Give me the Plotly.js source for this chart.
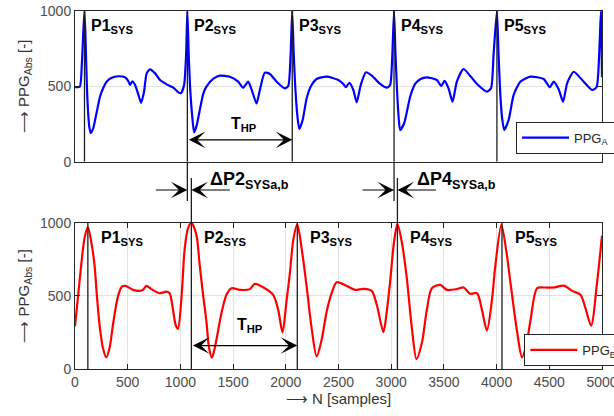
<!DOCTYPE html>
<html>
<head>
<meta charset="utf-8">
<script src="https://cdn.plot.ly/plotly-3.0.1.min.js"></script>
<style>
  html, body { margin: 0; padding: 0; background: #fff; }
  #chart { width: 614px; height: 416px; }
</style>
</head>
<body>
<div id="chart"></div>
<script>
// PPG channel A (upper panel): sample index and absolute amplitude
const A_N = [0, 45, 65, 78, 90, 101, 112, 124, 137, 150, 173, 206, 237, 269, 300, 348, 411, 474, 506, 522, 544, 570, 602, 627, 655, 680, 712, 760, 807, 870, 933, 981, 1006, 1035, 1054,
  1066, 1079, 1092, 1111, 1130, 1155, 1187, 1218, 1247, 1310, 1374, 1469, 1548, 1595, 1643, 1675, 1722, 1754, 1801, 1849, 1913, 1991, 2023, 2045,
  2061, 2074, 2087, 2109, 2128, 2160, 2198, 2236, 2293, 2388, 2498, 2546, 2571, 2603, 2641, 2673, 2711, 2761, 2816, 2895, 2958, 2990, 3008,
  3027, 3040, 3055, 3070, 3085, 3123, 3180, 3227, 3275, 3338, 3434, 3474, 3506, 3544, 3582, 3623, 3686, 3750, 3814, 3909, 3947, 3972,
  4003, 4018, 4035, 4052, 4073, 4114, 4162, 4225, 4320, 4447, 4504, 4542, 4589, 4631, 4669, 4732, 4812, 4907, 4948, 4976, 4990, 5000];
const A_VAL = [495, 497, 650, 850, 1000, 790, 520, 330, 225, 190, 222, 329, 431, 491, 531, 557, 567, 560, 535, 509, 534, 509, 443, 391, 464, 586, 613, 586, 542, 513, 491, 460, 455, 509, 708,
  1000, 708, 495, 310, 195, 243, 354, 454, 498, 549, 571, 564, 531, 491, 531, 480, 387, 476, 591, 582, 531, 487, 502, 697,
  1000, 740, 531, 310, 217, 277, 421, 498, 549, 564, 542, 516, 494, 524, 476, 394, 509, 593, 571, 516, 491, 509, 664,
  1000, 730, 480, 300, 210, 255, 431, 516, 547, 560, 542, 502, 536, 487, 398, 531, 615, 569, 516, 465, 487, 719,
  1000, 720, 450, 290, 210, 277, 443, 531, 564, 549, 494, 531, 480, 398, 520, 597, 542, 476, 494, 763, 1000, 560];

// PPG channel B (lower panel)
const B_N = [0, 43, 90, 122, 154, 185, 207, 233, 265, 296, 328, 360, 407, 445, 480, 550, 613, 645, 677, 724, 803, 867, 898, 930, 955, 977, 1010, 1041, 1072,
  1104, 1152, 1183, 1215, 1247, 1272, 1299, 1326, 1390, 1437, 1485, 1564, 1659, 1706, 1785, 1880, 1928, 1969, 2008, 2039, 2071,
  2109, 2150, 2198, 2245, 2293, 2340, 2388, 2435, 2483, 2578, 2657, 2736, 2815, 2863, 2926, 2958, 2990, 3027,
  3059, 3100, 3148, 3196, 3240, 3291, 3338, 3386, 3465, 3528, 3623, 3686, 3750, 3814, 3861, 3908, 3956, 3987,
  4045, 4093, 4130, 4194, 4241, 4282, 4320, 4384, 4447, 4542, 4637, 4717, 4796, 4843, 4897, 4954, 5000];
const B_VAL = [291, 598, 893, 970, 870, 711, 507, 302, 143, 79, 143, 302, 495, 563, 568, 541, 534, 541, 568, 546, 518, 529, 518, 404, 302, 275, 484, 825, 962,
  1000, 916, 711, 507, 325, 143, 77, 143, 382, 507, 552, 541, 546, 582, 559, 507, 404, 250, 473, 655, 882,
  988, 825, 563, 280, 86, 200, 393, 518, 593, 568, 541, 548, 534, 439, 252, 393, 598, 870,
  990, 870, 621, 280, 68, 177, 404, 552, 575, 541, 546, 557, 514, 518, 404, 263, 473, 700,
  985, 802, 598, 257, 79, 166, 325, 552, 557, 557, 570, 534, 507, 416, 297, 598, 911];

// Systolic peak positions marked in each channel
const PEAKS_A = [90, 1066, 2061, 3027, 4003];
const PEAKS_B = [122, 1104, 2109, 3059, 4051];
const PEAK_NAMES = ['P1', 'P2', 'P3', 'P4', 'P5'];

// Heart period level (arrow height) in each panel
const THP_LEVEL_A = 145;
const THP_LEVEL_B = 160;

const X_TICKS = [0, 500, 1000, 1500, 2000, 2500, 3000, 3500, 4000, 4500, 5000];
const Y_TICKS = [0, 500, 1000];

// ---- figure geometry (pixels) ----
const W = 614, H = 416;
const M = { l: 75, r: 12, t: 11, b: 47 };
const plotH = H - M.t - M.b;
const py = p => (H - M.b - p) / plotH;          // pixel row -> paper y
const TOP_DOMAIN = [py(161.7), 1];
const BOT_DOMAIN = [0, py(222.7)];

const FONT = 'Liberation Sans, Arial, Helvetica, sans-serif';
const AXIS_COL = '#262626';
const TICK_COL = '#4d4d4d';
const GRID_COL = '#e3e3e3';
const MARK_COL = '#1e1e1e';

const traces = [
  {
    x: A_N, y: A_VAL, xaxis: 'x2', yaxis: 'y2', type: 'scatter', mode: 'lines',
    name: 'PPG<sub>A</sub>', legend: 'legend',
    line: { color: '#0000ff', width: 2.2, shape: 'spline', smoothing: 0.6 }
  },
  {
    x: B_N, y: B_VAL, xaxis: 'x', yaxis: 'y', type: 'scatter', mode: 'lines',
    name: 'PPG<sub>B</sub>', legend: 'legend2',
    line: { color: '#ff0000', width: 2.2, shape: 'spline', smoothing: 0.8 }
  }
];

// vertical markers at the systolic peaks
const shapes = [];
PEAKS_A.forEach(n => shapes.push({ type: 'line', xref: 'x2', yref: 'y2', x0: n, x1: n, y0: 0, y1: 1000,
  line: { color: MARK_COL, width: 1.3 } }));
PEAKS_B.forEach(n => shapes.push({ type: 'line', xref: 'x', yref: 'y', x0: n, x1: n, y0: 0, y1: 1000,
  line: { color: MARK_COL, width: 1.3 } }));
// P2 and P4 markers run into the gap between the panels (peak offset a/b)
[1, 3].forEach(i => {
  shapes.push({ type: 'line', xref: 'x2', yref: 'paper', x0: PEAKS_A[i], x1: PEAKS_A[i], y0: py(201), y1: TOP_DOMAIN[0],
    line: { color: MARK_COL, width: 1.3 } });
  shapes.push({ type: 'line', xref: 'x', yref: 'paper', x0: PEAKS_B[i], x1: PEAKS_B[i], y0: BOT_DOMAIN[1], y1: py(178),
    line: { color: MARK_COL, width: 1.3 } });
});

const annotations = [];
const boldFont = size => ({ family: FONT, size: size, color: '#000' });

// peak labels
PEAK_NAMES.forEach((name, i) => {
  annotations.push({ xref: 'x2', yref: 'y2', x: PEAKS_A[i], y: 1000, xanchor: 'left', yanchor: 'top',
    xshift: 5, yshift: -4, showarrow: false, text: '<b>' + name + '<sub>SYS</sub></b>', font: boldFont(16) });
  annotations.push({ xref: 'x', yref: 'y', x: PEAKS_B[i], y: 1000, xanchor: 'left', yanchor: 'top',
    xshift: 11, yshift: -4, showarrow: false, text: '<b>' + name + '<sub>SYS</sub></b>', font: boldFont(16) });
});

// heart period arrows between P2 and P3
const arrowStyle = { arrowcolor: '#000', arrowwidth: 1.2, arrowhead: 3, arrowsize: 2.3,
  startarrowhead: 3, startarrowsize: 2.3 };
annotations.push(Object.assign({ xref: 'x2', yref: 'y2', axref: 'x2', ayref: 'y2',
  x: PEAKS_A[2], y: THP_LEVEL_A, ax: PEAKS_A[1], ay: THP_LEVEL_A, text: '', showarrow: true,
  arrowside: 'end+start' }, arrowStyle));
annotations.push(Object.assign({ xref: 'x', yref: 'y', axref: 'x', ayref: 'y',
  x: PEAKS_B[2], y: THP_LEVEL_B, ax: PEAKS_B[1], ay: THP_LEVEL_B, text: '', showarrow: true,
  arrowside: 'end+start' }, arrowStyle));
annotations.push({ xref: 'x2', yref: 'y2', x: (PEAKS_A[1] + PEAKS_A[2]) / 2, y: 323, xanchor: 'center', yanchor: 'top',
  xshift: 4, showarrow: false, text: '<b>T<sub>HP</sub></b>', font: boldFont(16) });
annotations.push({ xref: 'x', yref: 'y', x: (PEAKS_B[1] + PEAKS_B[2]) / 2, y: 375, xanchor: 'center', yanchor: 'top',
  xshift: 6, showarrow: false, text: '<b>T<sub>HP</sub></b>', font: boldFont(16) });

// peak offset between channels for P2 and P4
[1, 3].forEach(i => {
  annotations.push(Object.assign({ xref: 'x', yref: 'paper', x: PEAKS_A[i], y: py(190),
    ax: -33, ay: 0, text: '', showarrow: true }, arrowStyle));
  annotations.push(Object.assign({ xref: 'x', yref: 'paper', x: PEAKS_B[i], y: py(190),
    ax: 40, ay: 0, text: '', showarrow: true }, arrowStyle));
  annotations.push({ xref: 'x', yref: 'paper', x: PEAKS_A[i], y: py(166.5), xanchor: 'left', yanchor: 'top',
    xshift: 21, showarrow: false, text: '<b>\u0394' + PEAK_NAMES[i] + '<sub>SYSa,b</sub></b>', font: boldFont(18) });
});

const yAxisBase = {
  range: [0, 1000], tickvals: Y_TICKS, ticktext: Y_TICKS.map(String),
  ticks: 'inside', ticklen: 5, tickcolor: AXIS_COL, tickwidth: 1,
  showline: true, linecolor: AXIS_COL, linewidth: 1, mirror: 'ticks',
  showgrid: true, gridcolor: GRID_COL, gridwidth: 1, zeroline: false,
  tickfont: { family: FONT, size: 14, color: TICK_COL },
  title: { text: '\u27F6 PPG<sub>Abs</sub> [-]', font: { family: FONT, size: 15, color: '#333' }, standoff: 6 },
  fixedrange: true
};

const layout = {
  width: W, height: H,
  margin: { l: M.l, r: M.r, t: M.t, b: M.b, autoexpand: false },
  paper_bgcolor: '#fff', plot_bgcolor: '#fff',
  showlegend: true,
  xaxis: {
    anchor: 'y', range: [0, 5000], tickvals: X_TICKS, ticktext: X_TICKS.map(String),
    ticks: 'inside', ticklen: 5, tickcolor: AXIS_COL, ticklabeloverflow: 'allow',
    showline: true, linecolor: AXIS_COL, linewidth: 1, mirror: 'ticks',
    showgrid: true, gridcolor: GRID_COL, zeroline: false,
    tickfont: { family: FONT, size: 14, color: TICK_COL },
    title: { text: '\u27F6 N [samples]', font: { family: FONT, size: 15, color: '#333' }, standoff: 2 },
    fixedrange: true
  },
  yaxis: Object.assign({}, yAxisBase, { anchor: 'x', domain: BOT_DOMAIN }),
  xaxis2: {
    anchor: 'y2', range: [0, 5000], showticklabels: false, ticks: '',
    showline: true, linecolor: AXIS_COL, linewidth: 1, mirror: true,
    showgrid: false, zeroline: false, fixedrange: true
  },
  yaxis2: Object.assign({}, yAxisBase, { anchor: 'x2', domain: TOP_DOMAIN }),
  legend: {
    x: (516 - M.l) / (W - M.l - M.r), y: py(121.7), xanchor: 'left', yanchor: 'top',
    bgcolor: '#fff', bordercolor: AXIS_COL, borderwidth: 1, itemwidth: 47,
    font: { family: FONT, size: 13, color: '#262626' }
  },
  legend2: {
    x: (524.3 - M.l) / (W - M.l - M.r), y: py(334), xanchor: 'left', yanchor: 'top',
    bgcolor: '#fff', bordercolor: AXIS_COL, borderwidth: 1, itemwidth: 47,
    font: { family: FONT, size: 13, color: '#262626' }
  },
  shapes: shapes,
  annotations: annotations
};

Plotly.newPlot('chart', traces, layout, { displayModeBar: false, staticPlot: true });
</script>
</body>
</html>
